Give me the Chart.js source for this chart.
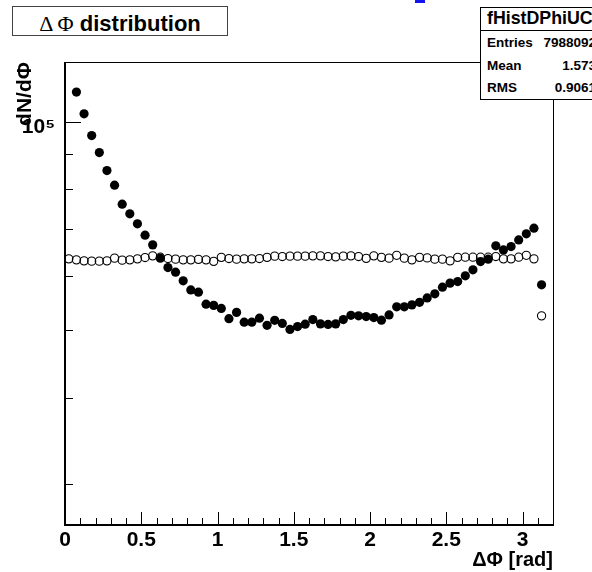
<!DOCTYPE html>
<html lang="en">
<head>
    <meta charset="UTF-8">
    <title>Delta Phi distribution</title>
    <script src="https://cdn.jsdelivr.net/npm/chart.js"></script>
    <style>
        body { margin: 0; background: #fff; }
        #wrap { position: relative; width: 592px; height: 572px; overflow: hidden; font-family: 'Liberation Sans', Arial, sans-serif; font-weight: bold; color: #000; }
        #wrap canvas { position: absolute; left: 0; top: 0; }
        .abs { position: absolute; white-space: nowrap; }
    </style>
</head>
<body>
<div id="wrap">
    <canvas id="phiChart" width="592" height="572"></canvas>
    <div class="abs" style="left:415px; top:0; width:10px; height:3px; background:#1414f0;"></div>
    <div class="abs" style="left:12px; top:6px; width:216px; height:30px; box-sizing:border-box; border:1px solid #444; background:#fff;"></div>
    <div class="abs" style="left:12px; top:13px; width:216px; text-align:center; font-size:22px; line-height:22px;"><span style="font-family:'Liberation Serif',serif; font-weight:normal;">&Delta; &Phi;</span> distribution</div>
    <div class="abs" style="left:480px; top:7px; width:130px; height:93px; box-sizing:border-box; border:1px solid #000; background:#fff;"></div>
    <div class="abs" style="left:480px; top:30px; width:130px; height:1px; background:#000;"></div>
    <div class="abs" style="left:487px; top:10.4px; font-size:17.8px; line-height:17.8px;">fHistDPhiUC</div>
    <div class="abs" style="left:487px; top:36px; font-size:13.5px; line-height:13.5px;">Entries</div>
    <div class="abs" style="left:487px; top:58.6px; font-size:13.5px; line-height:13.5px;">Mean</div>
    <div class="abs" style="left:487px; top:81.3px; font-size:13.5px; line-height:13.5px;">RMS</div>
    <div class="abs" style="right:-4px; top:36px; font-size:13.5px; line-height:13.5px;">7988092</div>
    <div class="abs" style="right:-4px; top:58.6px; font-size:13.5px; line-height:13.5px;">1.573</div>
    <div class="abs" style="right:-4px; top:81.3px; font-size:13.5px; line-height:13.5px;">0.9061</div>
</div>
<script>
    // histogram: 64 bins of 0.05 rad from 0 to 3.2, last bin empty
    const binWidth = 0.05;
    const filledCounts = [
        132000, 110400, 102700, 95550, 90300, 85060, 81030, 76080, 73670, 71260,
        68630, 66450, 63580, 61620, 60690, 58960, 57220, 56790, 54570, 54350,
        53810, 52000, 53100, 51400, 51400, 52090, 50860, 51710, 51190, 50180,
        50650, 51060, 51850, 51110, 51020, 51110, 51850, 52580, 52490, 52370,
        52190, 51740, 52660, 54080, 54080, 54440, 54900, 55720, 56470, 57740,
        58520, 58830, 59950, 61160, 62860, 63370, 66230, 65350, 66070, 67560,
        68930, 70250, 58190
    ];
    const openCounts = [
        63430, 63220, 63010, 62950, 62950, 63010, 63580, 63160, 63220, 63430,
        63710, 64070, 63790, 63500, 63370, 63220, 63220, 63330, 63220, 62910,
        63750, 63500, 63370, 63430, 63430, 63500, 63750, 64010, 63920, 64010,
        64010, 64010, 64070, 64070, 63920, 63860, 64010, 64070, 63920, 63540,
        64070, 63750, 63580, 64180, 63580, 63220, 63750, 63640, 63370, 63370,
        63010, 63750, 63790, 63790, 63790, 63790, 63920, 63430, 63430, 63790,
        64180, 63430, 52490
    ];
    const xMajorTicks = [0, 0.5, 1, 1.5, 2, 2.5, 3];
    const xTickLabels = ['0', '0.5', '1', '1.5', '2', '2.5', '3'];
    const yMinorTicks = [30000, 40000, 50000, 60000, 70000, 80000, 90000];
    const yMajorTicks = [100000];
    const yTickLabels = ['10\u2075'];

    const toPoints = arr => arr.map((v, i) => ({ x: (i + 0.5) * binWidth, y: v }));

    const isMajorX = v => xMajorTicks.some(m => Math.abs(m - v) < 1e-6);

    const rootFrame = {
        id: 'rootFrame',
        afterDatasetsDraw(chart) {
            const { ctx, chartArea: a, scales } = chart;
            const x = scales.x, y = scales.y;
            ctx.save();
            ctx.strokeStyle = '#000';
            ctx.lineWidth = 1;
            ctx.beginPath();
            x.ticks.forEach(t => {
                const px = Math.round(x.getPixelForValue(t.value)) + 0.5;
                const len = isMajorX(t.value) ? 13 : 7;
                ctx.moveTo(px, a.bottom);
                ctx.lineTo(px, a.bottom - len);
            });
            y.ticks.forEach(t => {
                const py = Math.round(y.getPixelForValue(t.value)) + 0.5;
                const len = yMajorTicks.includes(t.value) ? 16 : 8;
                ctx.moveTo(a.left, py);
                ctx.lineTo(a.left + len, py);
            });
            ctx.stroke();
            // thin top and right edges
            ctx.beginPath();
            ctx.moveTo(a.left, a.top + 0.5);
            ctx.lineTo(a.right + 0.5, a.top + 0.5);
            ctx.lineTo(a.right + 0.5, a.bottom);
            ctx.stroke();
            // thick axes
            ctx.lineWidth = 2;
            ctx.beginPath();
            ctx.moveTo(a.left, a.top);
            ctx.lineTo(a.left, a.bottom);
            ctx.lineTo(a.right + 1, a.bottom);
            ctx.stroke();
            ctx.restore();
        }
    };

    const ctx = document.getElementById('phiChart').getContext('2d');
    new Chart(ctx, {
        type: 'scatter',
        data: {
            datasets: [
                {
                    label: 'filled',
                    data: toPoints(filledCounts),
                    pointStyle: 'circle',
                    pointRadius: 4.6,
                    pointBackgroundColor: '#000',
                    pointBorderWidth: 0
                },
                {
                    label: 'open',
                    data: toPoints(openCounts),
                    pointStyle: 'circle',
                    pointRadius: 4.1,
                    pointBackgroundColor: 'rgba(0,0,0,0)',
                    pointBorderColor: '#000',
                    pointBorderWidth: 1.1
                }
            ]
        },
        options: {
            responsive: false,
            animation: false,
            events: [],
            layout: { padding: { left: 0, top: 62, right: 39, bottom: 0 } },
            plugins: { legend: { display: false }, tooltip: { enabled: false } },
            scales: {
                x: {
                    type: 'linear',
                    min: 0,
                    max: 3.2,
                    grid: { display: false, drawTicks: false },
                    border: { display: false },
                    afterBuildTicks: scale => {
                        const t = [];
                        for (let k = 0; k <= 32; k++) t.push({ value: k / 10 });
                        scale.ticks = t;
                    },
                    afterFit: scale => { scale.height = 47; },
                    ticks: {
                        autoSkip: false,
                        maxRotation: 0,
                        padding: 3,
                        color: '#000',
                        font: { family: 'Liberation Sans', size: 21, weight: 'bold' },
                        callback: v => {
                            const i = xMajorTicks.findIndex(m => Math.abs(m - v) < 1e-6);
                            return i >= 0 ? xTickLabels[i] : '';
                        }
                    },
                    title: {
                        display: true,
                        text: '\u0394\u03A6 [rad]',
                        align: 'end',
                        color: '#000',
                        padding: { top: 0, bottom: 0 },
                        font: { family: 'Liberation Sans', size: 20, weight: 'bold' }
                    }
                },
                y: {
                    type: 'logarithmic',
                    min: 26200,
                    max: 122000,
                    grid: { display: false, drawTicks: false },
                    border: { display: false },
                    afterBuildTicks: scale => {
                        scale.ticks = yMinorTicks.concat(yMajorTicks).map(v => ({ value: v }));
                    },
                    afterFit: scale => { scale.width = 65; },
                    ticks: {
                        autoSkip: false,
                        padding: 10,
                        labelOffset: 5,
                        color: '#000',
                        font: { family: 'Liberation Sans', size: 21, weight: 'bold' },
                        callback: v => {
                            const i = yMajorTicks.indexOf(v);
                            return i >= 0 ? yTickLabels[i] : '';
                        }
                    },
                    title: {
                        display: true,
                        text: 'dN/d\u03A6',
                        align: 'end',
                        color: '#000',
                        padding: { top: 13, bottom: 0 },
                        font: { family: 'Liberation Sans', size: 21, weight: 'bold' }
                    }
                }
            }
        },
        plugins: [rootFrame]
    });
</script>
</body>
</html>
